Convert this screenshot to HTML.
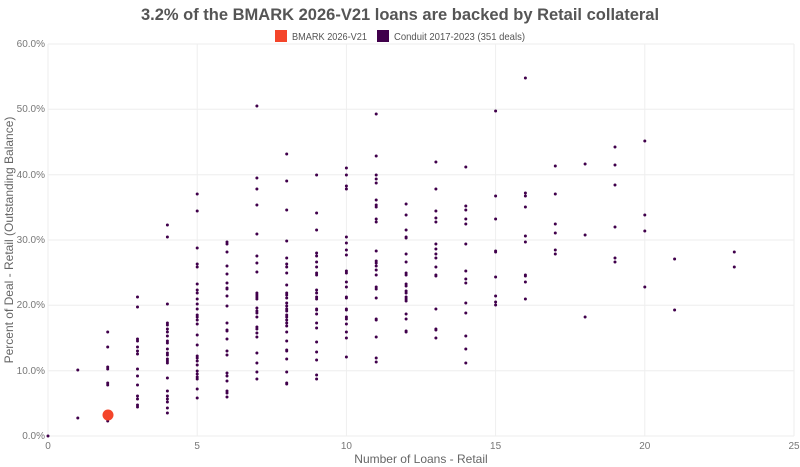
<!DOCTYPE html>
<html><head><meta charset="utf-8"><style>
body{margin:0;background:#fff;}
svg{display:block;font-family:"Liberation Sans",sans-serif;}
</style></head><body>
<svg width="800" height="467" viewBox="0 0 800 467">
<text x="400" y="20" text-anchor="middle" font-size="16.5" font-weight="bold" fill="#555">3.2% of the BMARK 2026-V21 loans are backed by Retail collateral</text>
<rect x="275" y="30" width="12" height="12" fill="#f4452a"/>
<text x="292" y="40" font-size="10.5" fill="#555" textLength="75" lengthAdjust="spacingAndGlyphs">BMARK 2026-V21</text>
<rect x="377" y="30" width="12" height="12" fill="#40004b"/>
<text x="394" y="40" font-size="10.5" fill="#555" textLength="131" lengthAdjust="spacingAndGlyphs">Conduit 2017-2023 (351 deals)</text>
<g stroke="#eee" stroke-width="1">
<line x1="48" y1="44" x2="794" y2="44"/><line x1="48" y1="109.3" x2="794" y2="109.3"/><line x1="48" y1="174.7" x2="794" y2="174.7"/><line x1="48" y1="240" x2="794" y2="240"/><line x1="48" y1="305.3" x2="794" y2="305.3"/><line x1="48" y1="370.7" x2="794" y2="370.7"/><line x1="48" y1="436" x2="794" y2="436"/>
<line x1="48" y1="44" x2="48" y2="436"/><line x1="197.2" y1="44" x2="197.2" y2="436"/><line x1="346.4" y1="44" x2="346.4" y2="436"/><line x1="495.6" y1="44" x2="495.6" y2="436"/><line x1="644.8" y1="44" x2="644.8" y2="436"/><line x1="794" y1="44" x2="794" y2="436"/>
</g>
<g font-size="10" fill="#777" text-anchor="end">
<text x="45" y="47">60.0%</text><text x="45" y="112">50.0%</text><text x="45" y="178">40.0%</text><text x="45" y="243">30.0%</text><text x="45" y="308">20.0%</text><text x="45" y="374">10.0%</text><text x="45" y="439">0.0%</text>
</g>
<g font-size="10" fill="#777" text-anchor="middle">
<text x="48" y="449">0</text><text x="197.2" y="449">5</text><text x="346.4" y="449">10</text><text x="495.6" y="449">15</text><text x="644.8" y="449">20</text><text x="794" y="449">25</text>
</g>
<text x="421" y="463" text-anchor="middle" font-size="12" fill="#666">Number of Loans - Retail</text>
<text transform="translate(13,240) rotate(-90)" text-anchor="middle" font-size="12" fill="#666">Percent of Deal - Retail (Outstanding Balance)</text>
<g fill="none" stroke="#40004b" stroke-width="3" stroke-linecap="round">
<path d="M48 436h0"/>
<path d="M77.8 370h0M77.8 418h0"/>
<path d="M107.7 332h0M107.7 347h0M107.7 367h0M107.7 369h0M107.7 383h0M107.7 385h0M107.7 421h0"/>
<path d="M137.5 297h0M137.5 307h0M137.5 339h0M137.5 341h0M137.5 347h0M137.5 351h0M137.5 354h0M137.5 369h0M137.5 376h0M137.5 385h0M137.5 396h0M137.5 399h0M137.5 405h0M137.5 407h0"/>
<path d="M167.4 225h0M167.4 237h0M167.4 304h0M167.4 323h0M167.4 325h0M167.4 329h0M167.4 332h0M167.4 336h0M167.4 341h0M167.4 343h0M167.4 349h0M167.4 353h0M167.4 355h0M167.4 359h0M167.4 361h0M167.4 363h0M167.4 378h0M167.4 391h0M167.4 396h0M167.4 399h0M167.4 402h0M167.4 408h0M167.4 413h0"/>
<path d="M197.2 194h0M197.2 211h0M197.2 248h0M197.2 264h0M197.2 267h0M197.2 284h0M197.2 290h0M197.2 293h0M197.2 299h0M197.2 304h0M197.2 309h0M197.2 315h0M197.2 317h0M197.2 320h0M197.2 324h0M197.2 335h0M197.2 345h0M197.2 356h0M197.2 358h0M197.2 361h0M197.2 365h0M197.2 371h0M197.2 374h0M197.2 377h0M197.2 379h0M197.2 389h0M197.2 398h0"/>
<path d="M227 242h0M227 244h0M227 252h0M227 266h0M227 274h0M227 283h0M227 288h0M227 289h0M227 296h0M227 306h0M227 323h0M227 330h0M227 331h0M227 339h0M227 351h0M227 355h0M227 373h0M227 376h0M227 381h0M227 391h0M227 393h0M227 397h0"/>
<path d="M256.9 106h0M256.9 178h0M256.9 189h0M256.9 205h0M256.9 234h0M256.9 256h0M256.9 263h0M256.9 272h0M256.9 293h0M256.9 295h0M256.9 297h0M256.9 299h0M256.9 308h0M256.9 311h0M256.9 313h0M256.9 317h0M256.9 327h0M256.9 329h0M256.9 333h0M256.9 337h0M256.9 353h0M256.9 363h0M256.9 372h0M256.9 379h0"/>
<path d="M286.7 154h0M286.7 181h0M286.7 210h0M286.7 241h0M286.7 258h0M286.7 264h0M286.7 267h0M286.7 273h0M286.7 285h0M286.7 293h0M286.7 295h0M286.7 298h0M286.7 303h0M286.7 306h0M286.7 309h0M286.7 311h0M286.7 315h0M286.7 317h0M286.7 320h0M286.7 323h0M286.7 326h0M286.7 332h0M286.7 341h0M286.7 350h0M286.7 351h0M286.7 359h0M286.7 372h0M286.7 383h0M286.7 384h0"/>
<path d="M316.6 175h0M316.6 213h0M316.6 230h0M316.6 253h0M316.6 256h0M316.6 262h0M316.6 267h0M316.6 273h0M316.6 275h0M316.6 290h0M316.6 293h0M316.6 297h0M316.6 299h0M316.6 309h0M316.6 310h0M316.6 314h0M316.6 323h0M316.6 328h0M316.6 342h0M316.6 352h0M316.6 360h0M316.6 375h0M316.6 379h0"/>
<path d="M346.4 168h0M346.4 175h0M346.4 186h0M346.4 189h0M346.4 237h0M346.4 243h0M346.4 250h0M346.4 255h0M346.4 271h0M346.4 273h0M346.4 282h0M346.4 287h0M346.4 297h0M346.4 298h0M346.4 309h0M346.4 310h0M346.4 317h0M346.4 319h0M346.4 324h0M346.4 332h0M346.4 338h0M346.4 357h0"/>
<path d="M376.2 114h0M376.2 156h0M376.2 175h0M376.2 179h0M376.2 183h0M376.2 200h0M376.2 205h0M376.2 207h0M376.2 219h0M376.2 222h0M376.2 251h0M376.2 261h0M376.2 263h0M376.2 266h0M376.2 270h0M376.2 275h0M376.2 287h0M376.2 289h0M376.2 298h0M376.2 319h0M376.2 320h0M376.2 337h0M376.2 358h0M376.2 362h0"/>
<path d="M406.1 204h0M406.1 215h0M406.1 230h0M406.1 237h0M406.1 238h0M406.1 254h0M406.1 262h0M406.1 273h0M406.1 275h0M406.1 284h0M406.1 286h0M406.1 291h0M406.1 293h0M406.1 297h0M406.1 299h0M406.1 301h0M406.1 314h0M406.1 319h0M406.1 331h0M406.1 332h0"/>
<path d="M435.9 162h0M435.9 189h0M435.9 211h0M435.9 218h0M435.9 222h0M435.9 244h0M435.9 249h0M435.9 254h0M435.9 258h0M435.9 267h0M435.9 275h0M435.9 276h0M435.9 309h0M435.9 329h0M435.9 330h0M435.9 338h0"/>
<path d="M465.8 167h0M465.8 206h0M465.8 210h0M465.8 219h0M465.8 224h0M465.8 244h0M465.8 271h0M465.8 279h0M465.8 283h0M465.8 303h0M465.8 313h0M465.8 336h0M465.8 349h0M465.8 363h0"/>
<path d="M495.6 111h0M495.6 196h0M495.6 219h0M495.6 251h0M495.6 252h0M495.6 277h0M495.6 296h0M495.6 302h0M495.6 305h0"/>
<path d="M525.4 78h0M525.4 193h0M525.4 196h0M525.4 207h0M525.4 236h0M525.4 242h0M525.4 275h0M525.4 276h0M525.4 282h0M525.4 299h0"/>
<path d="M555.3 166h0M555.3 194h0M555.3 224h0M555.3 233h0M555.3 250h0M555.3 254h0"/>
<path d="M585.1 164h0M585.1 235h0M585.1 317h0"/>
<path d="M615 147h0M615 165h0M615 185h0M615 227h0M615 258h0M615 262h0"/>
<path d="M644.8 141h0M644.8 215h0M644.8 231h0M644.8 287h0"/>
<path d="M674.6 259h0M674.6 310h0"/>
<path d="M734.3 252h0M734.3 267h0"/>
</g>
<circle cx="108" cy="415" r="5.5" fill="#f4452a"/>
</svg>
</body></html>
